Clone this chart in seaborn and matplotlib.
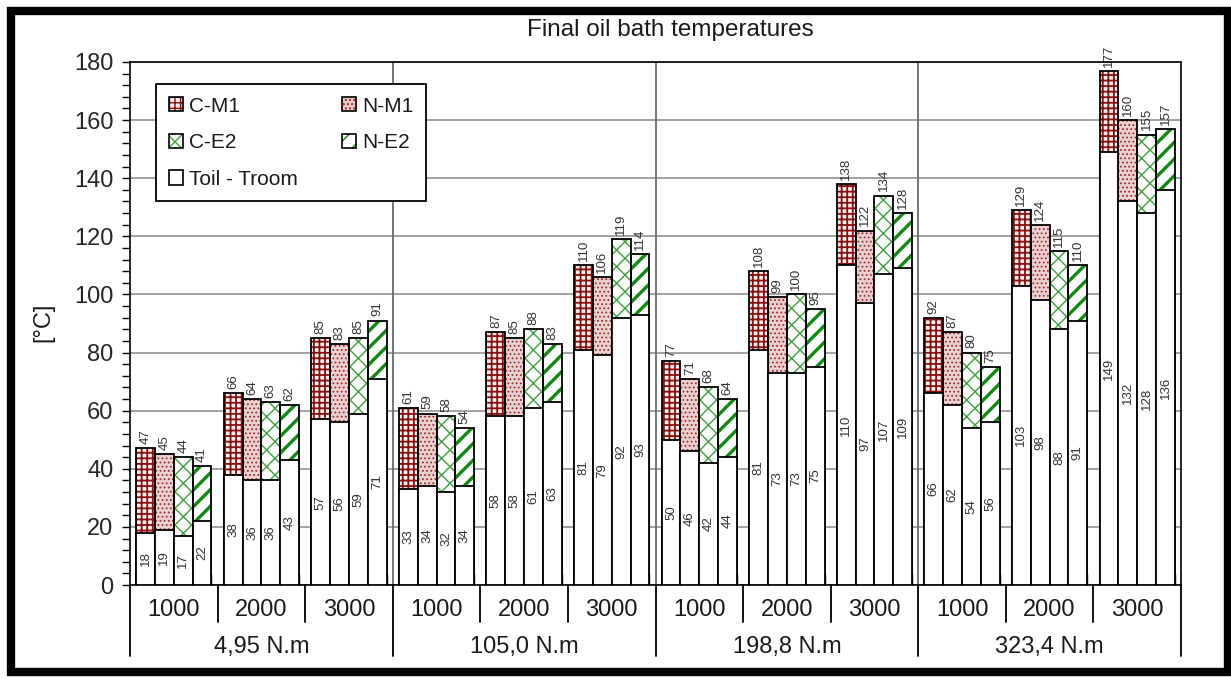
import numpy as np
import pandas as pd
import matplotlib
matplotlib.use("Agg")
import matplotlib.pyplot as plt
from matplotlib.patches import Patch, Rectangle
from matplotlib.legend_handler import HandlerTuple
from matplotlib.ticker import MultipleLocator
import seaborn as sns

# ---- data -------------------------------------------------------------
torques = ["4,95 N.m", "105,0 N.m", "198,8 N.m", "323,4 N.m"]
speeds = ["1000", "2000", "3000"]
oils = ["C-M1", "N-M1", "C-E2", "N-E2"]

# final oil bath temperature, ordered torque -> speed
c_m1_final = [47, 66, 85, 61, 87, 110, 77, 108, 138, 92, 129, 177]
n_m1_final = [45, 64, 83, 59, 85, 106, 71, 99, 122, 87, 124, 160]
c_e2_final = [44, 63, 85, 58, 88, 119, 68, 100, 134, 80, 115, 155]
n_e2_final = [41, 62, 91, 54, 83, 114, 64, 95, 128, 75, 110, 157]

# temperature rise Toil - Troom
c_m1_rise = [18, 38, 57, 33, 58, 81, 50, 81, 110, 66, 103, 149]
n_m1_rise = [19, 36, 56, 34, 58, 79, 46, 73, 97, 62, 98, 132]
c_e2_rise = [17, 36, 59, 32, 61, 92, 42, 73, 107, 54, 88, 128]
n_e2_rise = [22, 43, 71, 34, 63, 93, 44, 75, 109, 56, 91, 136]

finals = {"C-M1": c_m1_final, "N-M1": n_m1_final, "C-E2": c_e2_final, "N-E2": n_e2_final}
rises = {"C-M1": c_m1_rise, "N-M1": n_m1_rise, "C-E2": c_e2_rise, "N-E2": n_e2_rise}

slots = [f"{t}|{s}" for t in torques for s in speeds]
rows = []
for oil in oils:
    for i, slot in enumerate(slots):
        rows.append({"slot": slot, "oil": oil, "final": finals[oil][i], "rise": rises[oil][i]})
df = pd.DataFrame(rows)

# ---- styles -----------------------------------------------------------
styles = {
    "C-M1": dict(face="#fbecec", hatch="+++", hcolor="#8a1010", hlw=1.3),
    "N-M1": dict(face="#f0cdcd", hatch="....", hcolor="#9c2a2a", hlw=0.8),
    "C-E2": dict(face="#ffffff", hatch="xx", hcolor="#3f9f3f", hlw=1.0),
    "N-E2": dict(face="#ffffff", hatch="//", hcolor="#108a10", hlw=2.4),
}

sns.set_style("ticks")
plt.rcParams["font.family"] = ["Liberation Sans", "DejaVu Sans"]
plt.rcParams["text.color"] = "#1a1a1a"
plt.rcParams["hatch.linewidth"] = 1.0

fig = plt.figure(figsize=(12.31, 6.79), dpi=100)
ax = fig.add_axes([130 / 1231, 1 - 585 / 679, 1051 / 1231, 523 / 679])

# hatched totals
sns.barplot(data=df, x="slot", y="final", hue="oil", order=slots, hue_order=oils,
            palette=[styles[o]["face"] for o in oils], width=0.86, gap=0,
            errorbar=None, legend=False, linewidth=0, ax=ax, zorder=2)
hatched = list(ax.containers)
for oil, cont in zip(oils, hatched):
    st = styles[oil]
    for p in cont:
        p.set_hatch(st["hatch"])
        p.set_edgecolor(st["hcolor"])
        p.set_linewidth(0)
        if hasattr(p, "set_hatch_linewidth"):
            p.set_hatch_linewidth(st["hlw"])
        ax.add_patch(Rectangle(p.get_xy(), p.get_width(), p.get_height(),
                               fill=False, edgecolor="black", linewidth=1.3, zorder=3))

# white rise segments on top
sns.barplot(data=df, x="slot", y="rise", hue="oil", order=slots, hue_order=oils,
            palette=["white"] * 4, width=0.86, gap=0, errorbar=None, legend=False,
            edgecolor="black", linewidth=1.3, ax=ax, zorder=4)
white = list(ax.containers)[4:]

for oil, cont in zip(oils, hatched):
    ax.bar_label(cont, labels=[str(v) for v in finals[oil]], rotation=90,
                 padding=3, fontsize=9.5, color="#333333")
for oil, cont in zip(oils, white):
    ax.bar_label(cont, labels=[str(v) for v in rises[oil]], rotation=90,
                 label_type="center", fontsize=9.5, color="#333333", zorder=6)

# ---- axes -------------------------------------------------------------
ax.set_xlim(-0.5, len(slots) - 0.5)
ax.set_ylim(0, 180)
ax.set_yticks(np.arange(0, 181, 20))
ax.yaxis.set_minor_locator(MultipleLocator(4))
ax.tick_params(axis="y", which="both", direction="out", length=6, width=1,
               labelsize=17, pad=6, color="black")
ax.yaxis.grid(True, color="#9a9a9a", linewidth=1.3, zorder=0)
ax.set_axisbelow(True)
for sp in ax.spines.values():
    sp.set_visible(True)
    sp.set_color("black")
    sp.set_linewidth(1.2)
ax.set_xlabel("")
ax.set_ylabel("")

# tick marks at every bar edge along the bottom axis
edges = sorted({round(p.get_x(), 4) for c in hatched for p in c} |
               {round(p.get_x() + p.get_width(), 4) for c in hatched for p in c})
ax.set_xticks(edges)
ax.set_xticklabels([])
ax.tick_params(axis="x", direction="in", length=8, width=1, color="black")

# two-level category labels below the axis
tr = ax.get_xaxis_transform()
for i, slot in enumerate(slots):
    ax.text(i, -0.048, slot.split("|")[1], transform=tr, ha="center", va="center",
            fontsize=17)
for k, t in enumerate(torques):
    ax.text(3 * k + 1, -0.118, t, transform=tr, ha="center", va="center", fontsize=17)
for i in range(1, len(slots)):
    if i % 3:
        ax.plot([i - 0.5, i - 0.5], [0, -0.07], transform=tr, color="black",
                lw=1.3, clip_on=False)
for x in [-0.5, 2.5, 5.5, 8.5, 11.5]:
    ax.plot([x, x], [0, -0.136], transform=tr, color="black", lw=1.3, clip_on=False)
for x in [2.5, 5.5, 8.5]:
    ax.plot([x, x], [0, 1], transform=tr, color="#6a6a6a", lw=1.3, zorder=1)

# ---- legend -----------------------------------------------------------
def swatch(oil):
    st = styles[oil]
    return (Patch(facecolor=st["face"], edgecolor=st["hcolor"], hatch=st["hatch"], linewidth=0),
            Patch(fill=False, edgecolor="black", linewidth=1.2))

toil = Patch(facecolor="white", edgecolor="black", linewidth=1.2)
handles = [swatch("C-M1"), swatch("C-E2"), toil, swatch("N-M1"), swatch("N-E2")]
labels = ["C-M1", "C-E2", "Toil - Troom", "N-M1", "N-E2"]
leg = ax.legend(handles, labels, handler_map={tuple: HandlerTuple(ndivide=1, pad=0)},
                ncol=2, loc="upper left", bbox_to_anchor=(26 / 1051, 1 - 22 / 523),
                borderaxespad=0, fontsize=15, handlelength=0.68, handleheight=0.68,
                handletextpad=0.3, columnspacing=2.1, labelspacing=0.85,
                borderpad=0.6, fancybox=False, framealpha=1, edgecolor="black")
leg.get_frame().set_linewidth(1.3)
leg.set_zorder(10)

# ---- titles -----------------------------------------------------------
fig.text(670 / 1231, 1 - 30 / 679, "Final oil bath temperatures", ha="center",
         va="center", fontsize=17.5)
fig.text(43 / 1231, 1 - 322 / 679, "[°C]", ha="center", va="center", rotation=90,
         fontsize=17)

# heavy outer frame
fig.patches.append(Rectangle((11 / 1231, 7 / 679), 1217 / 1231, 661 / 679,
                             transform=fig.transFigure, fill=False,
                             edgecolor="black", linewidth=6, zorder=20))

fig.savefig("out.png", dpi=100)
